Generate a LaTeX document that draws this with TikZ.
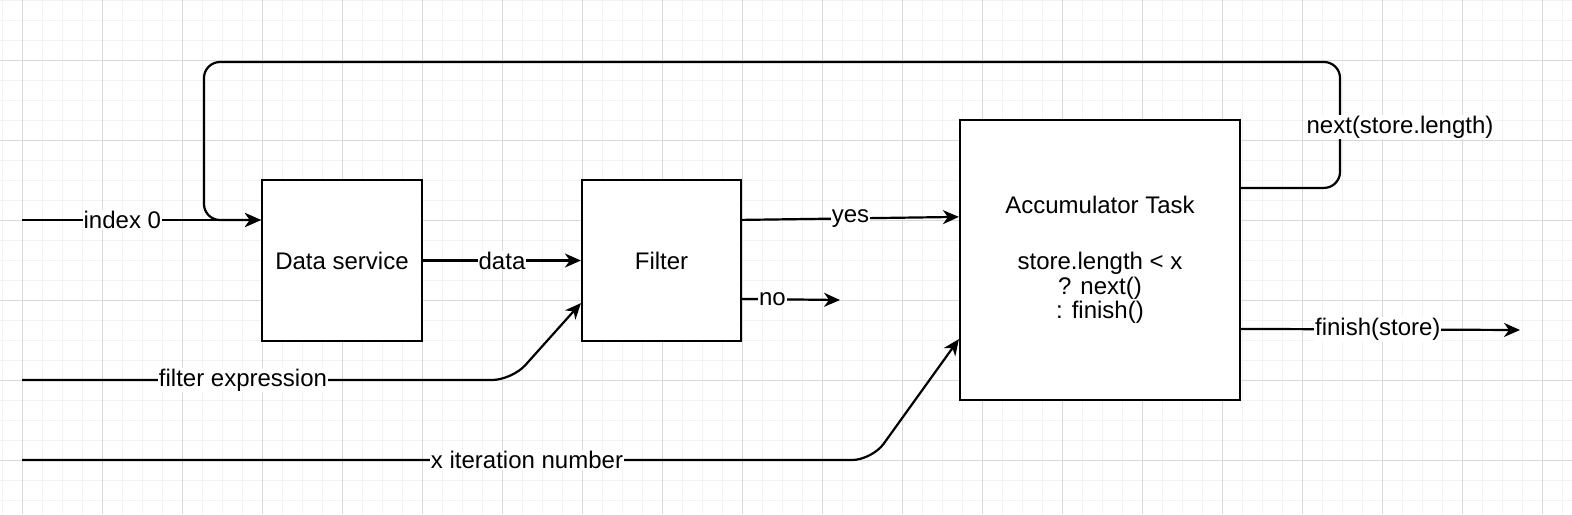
\documentclass[tikz,border=0pt]{standalone}
\usepackage{fontspec}
\setmainfont{Liberation Sans}
\usetikzlibrary{arrows.meta,calc,positioning}

\begin{document}
\begin{tikzpicture}[x=0.5pt,y=-0.5pt,
    font=\fontsize{12}{11}\selectfont,
    box/.style={draw,line width=1.1pt,fill=white,inner sep=0pt,align=center},
    flow/.style={line width=1.1pt,-{Stealth[length=8pt,width=7pt,inset=2.5pt]}},
    lbl/.style={fill=white,inner sep=0.5pt},
    minorgrid/.style={draw=black!5,line width=0.5pt},
    majorgrid/.style={draw=black!15,line width=0.5pt}]

    \useasboundingbox (0,0) rectangle (1572,514);
    \fill[white] (0,0) rectangle (1572,514);

    % raster
    \foreach \gx in {2,22,...,1562} \draw[minorgrid] (\gx,0) -- (\gx,514);
    \foreach \gy in {0,20,...,500} \draw[minorgrid] (0,\gy) -- (1572,\gy);
    \foreach \gx in {22,102,...,1542} \draw[majorgrid] (\gx,0) -- (\gx,514);
    \foreach \gy in {60,140,...,460} \draw[majorgrid] (0,\gy) -- (1572,\gy);

    % blokkok
    \node[box,minimum width=80pt,minimum height=80.5pt] (ds) at (342,260.5) {Data service};
    \node[box,minimum width=79.5pt,minimum height=80.5pt] (flt) at (661.5,260.5) {Filter};
    \node[box,minimum width=140pt,minimum height=140pt] (acc) at (1100,260)
        {Accumulator Task\\[17pt]store.length < x\\? next()\\: finish()};

    % be- es kimenetek
    \coordinate (idxIn) at (22,220);
    \coordinate (fexIn) at (22,380);
    \coordinate (iterIn) at (22,460);
    \coordinate (noEnd) at (840,300);
    \coordinate (finEnd) at (1520,330);

    \draw[flow,rounded corners=8pt] ($(acc.north east)+(0,69)$) -| (1340,62) -| (204,220) -- (ds.west |- idxIn);
    \node[lbl] (nextlbl) at (1400,127) {next(store.length)};

    \draw[flow] (idxIn) -- node[lbl,pos=0.42] {index 0} (ds.west |- idxIn);
    \draw[flow] (ds.east) -- node[lbl] {data} (flt.west);
    \draw[flow] ($(flt.north east)+(0,41)$) -- node[lbl] {yes} ($(acc.north west)+(0,98)$);
    \draw[flow] ($(flt.north east)+(0,120)$) -- node[lbl,pos=0.31] {no} (noEnd);
    \draw[flow,rounded corners=10pt] (fexIn) -- (512,380) -- ($(flt.south west)+(0,-39)$);
    \node[lbl] (fexlbl) at (243,380) {filter expression};
    \draw[flow,rounded corners=10pt] (iterIn) -- (872,460) -- ($(acc.south west)+(0,-62)$);
    \node[lbl] (iterlbl) at (527,460) {x iteration number};
    \draw[flow] ($(acc.north east)+(0,210)$) -- node[lbl,pos=0.49] {finish(store)} (finEnd);

\end{tikzpicture}
\end{document}
